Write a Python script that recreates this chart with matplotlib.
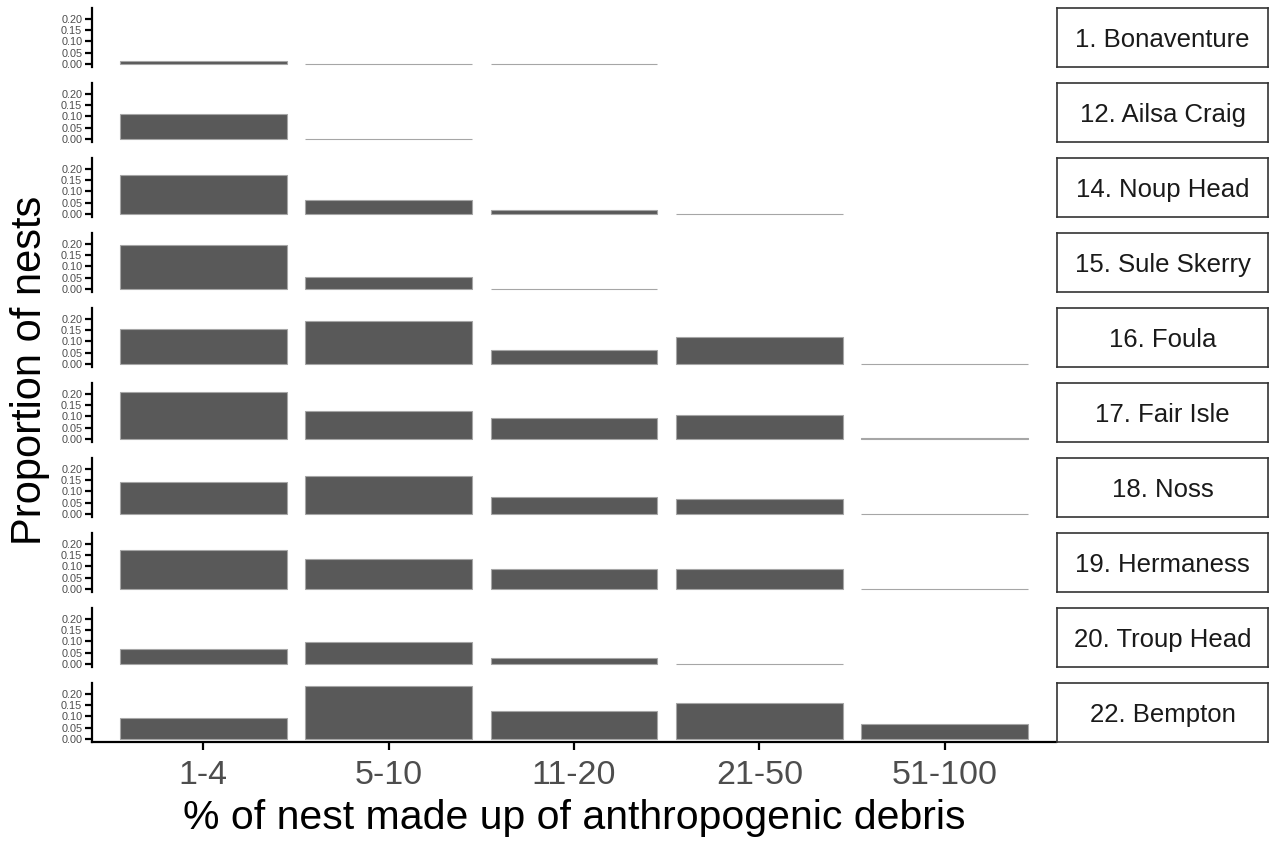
import numpy as np
import matplotlib
matplotlib.use("Agg")
from matplotlib import pyplot as plt

plt.rcParams['font.family'] = ['Liberation Sans', 'DejaVu Sans']

# data (nan = no bar)
categories = ["1-4", "5-10", "11-20", "21-50", "51-100"]
colonies = ["1. Bonaventure", "12. Ailsa Craig", "14. Noup Head", "15. Sule Skerry",
            "16. Foula", "17. Fair Isle", "18. Noss", "19. Hermaness",
            "20. Troup Head", "22. Bempton"]
nan = np.nan
bonaventure = [0.013, 0.0, 0.0, nan, nan]
ailsa_craig = [0.111, 0.0, nan, nan, nan]
noup_head = [0.172, 0.060, 0.019, 0.0, nan]
sule_skerry = [0.194, 0.055, 0.0, nan, nan]
foula = [0.156, 0.191, 0.060, 0.121, 0.0]
fair_isle = [0.207, 0.122, 0.093, 0.108, 0.002]
noss = [0.144, 0.170, 0.074, 0.067, 0.0]
hermaness = [0.171, 0.132, 0.088, 0.088, 0.0]
troup_head = [0.067, 0.099, 0.024, 0.0, nan]
bempton = [0.093, 0.236, 0.124, 0.159, 0.068]
values = [bonaventure, ailsa_craig, noup_head, sule_skerry, foula,
          fair_isle, noss, hermaness, troup_head, bempton]
yticks = [0.00, 0.05, 0.10, 0.15, 0.20]

W, H = 1271, 844
fig = plt.figure(figsize=(W / 100, H / 100), dpi=100)

left, right = 92, 1056
top0, step, ph = 8, 75, 58.5
strip_l, strip_r = 1057, 1268
x = np.arange(len(categories))

for i, (name, vals) in enumerate(zip(colonies, values)):
    top = top0 + step * i
    ax = fig.add_axes([left / W, 1 - (top + ph) / H, (right - left) / W, ph / H])
    v = np.array(vals, dtype=float)
    ok = ~np.isnan(v)
    ax.bar(x[ok], v[ok], width=0.9, color='#595959', edgecolor='#a6a6a6', linewidth=0.8)
    ax.set_xlim(-0.6, 4.6)
    ax.set_ylim(-0.0118, 0.2488)
    ax.set_yticks(yticks)
    ax.set_yticklabels([f"{t:.2f}" for t in yticks])
    for s in ['top', 'right']:
        ax.spines[s].set_visible(False)
    ax.spines['left'].set_linewidth(1.6)
    ax.tick_params(axis='y', length=5, width=1.6, labelsize=7.8, colors='black',
                   labelcolor='#4d4d4d', pad=2)
    if i == len(colonies) - 1:
        ax.spines['bottom'].set_linewidth(1.6)
        ax.set_xticks(x)
        ax.set_xticklabels(categories)
        ax.tick_params(axis='x', length=6, width=1.6, labelsize=24.5,
                       labelcolor='#4d4d4d', pad=7)
        ax.set_xlabel("% of nest made up of anthropogenic debris", fontsize=29.5, labelpad=6)
    else:
        ax.spines['bottom'].set_visible(False)
        ax.set_xticks([])

    sx = fig.add_axes([strip_l / W, 1 - (top + ph) / H, (strip_r - strip_l) / W, ph / H])
    sx.set_xticks([])
    sx.set_yticks([])
    for s in sx.spines.values():
        s.set_color('#333333')
        s.set_linewidth(1.2)
    sx.text(0.5, 0.46, name, ha='center', va='center', fontsize=18.5, color='#1a1a1a',
            transform=sx.transAxes)

fig.text(30 / W, 1 - 370 / H, "Proportion of nests", rotation=90, ha='center',
         va='center', fontsize=30)

fig.savefig('out.png', dpi=100)
